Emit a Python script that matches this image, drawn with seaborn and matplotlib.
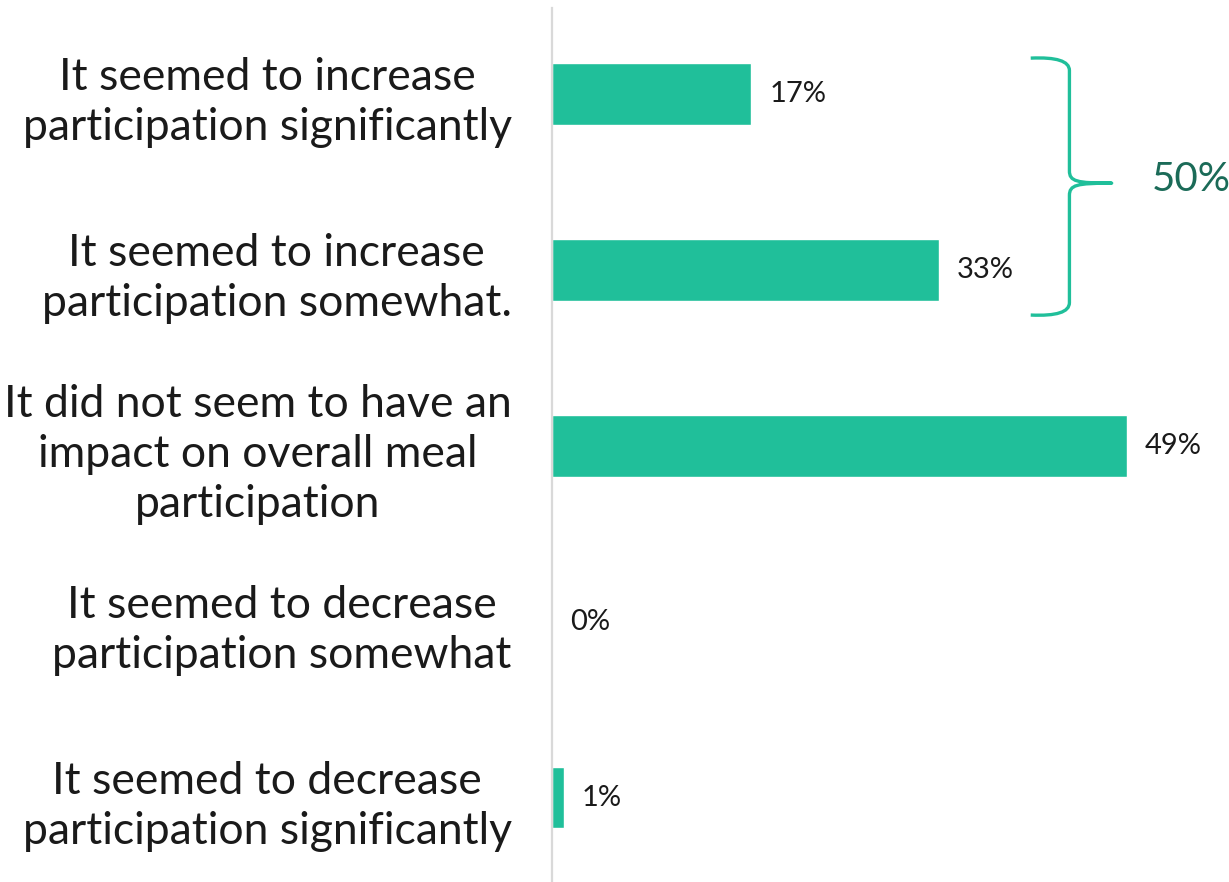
import matplotlib
matplotlib.use("Agg")
import matplotlib.pyplot as plt
from matplotlib.path import Path
from matplotlib.patches import PathPatch
import seaborn as sns
import pandas as pd

categories = [
    "It seemed to increase\nparticipation significantly",
    "It seemed to increase\nparticipation somewhat.",
    "It did not seem to have an\nimpact on overall meal\nparticipation",
    "It seemed to decrease\nparticipation somewhat",
    "It seemed to decrease\nparticipation significantly",
]
values = [17, 33, 49, 0, 1]
value_labels = ["17%", "33%", "49%", "0%", "1%"]
bracket_label = "50%"

bar_color = "#20BF9A"
label_color = "#1B6B58"

sns.set_theme(style="white")
plt.rcParams["font.family"] = ["Lato", "DejaVu Sans"]

df = pd.DataFrame({"category": categories, "value": values})

fig = plt.figure(figsize=(12.29, 8.82), dpi=100)
ax = fig.add_axes([552 / 1229, 0.0, 677 / 1229, 874 / 882])

sns.barplot(data=df, y="category", x="value", orient="h", color=bar_color,
            saturation=1, width=0.35, ax=ax)

ax.set_xlim(0, 57.7)
ax.set_ylim(4.48, -0.49)
ax.set_xlabel("")
ax.set_ylabel("")
ax.set_xticks([])

for spine in ["top", "right", "bottom"]:
    ax.spines[spine].set_visible(False)
ax.spines["left"].set_color("#D9D9D9")
ax.spines["left"].set_linewidth(1.6)

ax.tick_params(axis="y", length=0, pad=29)
for tl in ax.get_yticklabels():
    tl.set_fontsize(32)
    tl.set_color("#1a1a1a")
    tl.set_multialignment("center")
    tl.set_linespacing(1.28)

# value labels just past the end of each bar
for i, (v, lab) in enumerate(zip(values, value_labels)):
    ax.annotate(lab, xy=(v, i), xytext=(13, 0), textcoords="offset points",
                ha="left", va="center", fontsize=21, color="#1a1a1a")

# curly brace grouping the two "increase" answers
x0, xs, xt = 40.8, 44.1, 47.7
y_top, y_mid, y_bot = -0.205, 0.506, 1.256
r = 0.07
verts = [
    (x0, y_top), (xs, y_top - 0.01), (xs, y_top + r),
    (xs, y_mid - r),
    (xs, y_mid - 0.01), (xs + 0.6, y_mid), (xt, y_mid),
    (xs + 0.6, y_mid), (xs, y_mid + 0.01), (xs, y_mid + r),
    (xs, y_bot - r),
    (xs, y_bot + 0.01), (x0, y_bot),
]
codes = [
    Path.MOVETO, Path.CURVE3, Path.CURVE3,
    Path.LINETO,
    Path.CURVE4, Path.CURVE4, Path.CURVE4,
    Path.CURVE4, Path.CURVE4, Path.CURVE4,
    Path.LINETO,
    Path.CURVE3, Path.CURVE3,
]
brace = PathPatch(Path(verts, codes), facecolor="none", edgecolor=bar_color,
                  lw=2.4, clip_on=False, capstyle="butt", joinstyle="round")
ax.add_patch(brace)

ax.text(51.1, y_mid - 0.02, bracket_label, ha="left", va="center",
        fontsize=29, color=label_color)

fig.savefig("out.png", dpi=100)
